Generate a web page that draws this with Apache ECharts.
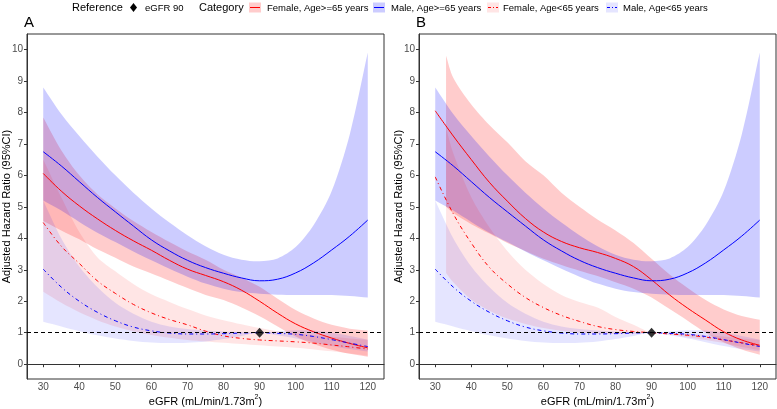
<!DOCTYPE html>
<html><head><meta charset="utf-8">
<script src="https://cdn.jsdelivr.net/npm/echarts@6/dist/echarts.min.js"></script>
<style>html,body{margin:0;padding:0;background:#fff}#c{width:777px;height:409px}</style>
</head><body><div id="c"></div>
<script>
// ---- data ----
const eGFR = [30,35,40,45,50,55,60,65,70,75,80,85,90,95,100,105,110,115,120];
const eGFR_B_female = [33,35,40,45,50,55,60,65,70,75,80,85,90,95,100,105,110,115,120];
const xTicks = [30,40,50,60,70,80,90,100,110,120];
const yTicks = [0,1,2,3,4,5,6,7,8,9,10];
const refX = [90];
const refY = [1];

// Male, Age>=65 (same in both panels)
const maleOldFit = [6.75,6.3,5.8,5.3,4.84,4.39,3.95,3.6,3.3,3.07,2.89,2.74,2.65,2.7,2.9,3.22,3.63,4.07,4.58];
const maleOldLo  = [5.2,4.88,4.52,4.18,3.88,3.58,3.3,3.03,2.78,2.56,2.4,2.29,2.24,2.21,2.2,2.2,2.2,2.17,2.12];
const maleOldHi  = [8.79,7.95,7.25,6.6,6.0,5.45,4.95,4.5,4.1,3.75,3.48,3.32,3.27,3.36,3.72,4.42,5.5,7.3,9.9];
// Male, Age<65 (same in both panels)
const maleYoungFit = [3.02,2.45,2.0,1.65,1.38,1.18,1.06,0.99,0.96,0.96,0.97,0.99,1.0,0.98,0.95,0.88,0.78,0.67,0.56];
const maleYoungLo  = [1.35,1.2,1.05,0.92,0.82,0.74,0.69,0.67,0.68,0.72,0.8,0.9,1.0,0.92,0.82,0.7,0.58,0.48,0.4];
const maleYoungHi  = [5.2,4.0,3.1,2.45,1.95,1.6,1.35,1.2,1.12,1.07,1.04,1.02,1.0,1.04,1.08,1.07,1.0,0.9,0.78];
// Panel A females
const femOldFitA = [6.06,5.5,5.03,4.62,4.25,3.92,3.62,3.3,3.02,2.82,2.62,2.35,2.0,1.62,1.28,1.03,0.83,0.66,0.52];
const femOldLoA  = [4.55,4.25,3.97,3.65,3.38,3.1,2.88,2.65,2.42,2.2,2.04,1.8,1.52,1.2,0.88,0.64,0.46,0.33,0.24];
const femOldHiA  = [7.84,6.8,6.0,5.4,4.95,4.55,4.2,3.88,3.58,3.32,3.0,2.75,2.46,2.08,1.72,1.45,1.25,1.13,1.07];
const femYoungFitA = [4.5,3.75,3.2,2.65,2.25,1.9,1.63,1.42,1.25,1.05,0.9,0.82,0.77,0.74,0.71,0.67,0.61,0.55,0.48];
const femYoungLoA  = [2.3,1.95,1.65,1.4,1.2,1.05,0.93,0.84,0.77,0.72,0.68,0.64,0.6,0.56,0.52,0.47,0.41,0.34,0.27];
const femYoungHiA  = [6.5,5.3,4.2,3.4,2.95,2.55,2.22,1.98,1.75,1.55,1.4,1.27,1.15,1.05,0.98,0.92,0.87,0.82,0.78];
// Panel B females
const femOldFitB = [8.05,7.25,6.5,5.78,5.18,4.63,4.2,3.9,3.7,3.55,3.36,3.1,2.68,2.2,1.78,1.4,1.03,0.77,0.6];
const femOldLoB  = [5.0,4.8,4.45,4.15,3.85,3.6,3.35,3.15,2.97,2.8,2.6,2.4,2.12,1.75,1.38,1.0,0.7,0.47,0.3];
const femOldHiB  = [9.8,9.1,8.25,7.6,7.05,6.45,6.0,5.45,5.0,4.6,4.25,3.85,3.35,2.85,2.42,2.04,1.74,1.53,1.41];
const femYoungFitB = [5.95,4.78,3.85,3.08,2.55,2.12,1.8,1.55,1.36,1.2,1.1,1.04,1.0,0.96,0.92,0.86,0.77,0.68,0.58];
const femYoungLoB  = [2.9,2.6,2.05,1.7,1.45,1.28,1.15,1.06,1.0,0.97,0.96,0.97,1.0,0.94,0.86,0.77,0.67,0.55,0.45];
const femYoungHiB  = [7.5,6.7,5.3,4.35,3.6,3.0,2.55,2.2,1.98,1.8,1.5,1.25,1.0,0.98,0.97,0.93,0.88,0.82,0.78];

// ---- build ----
const FONT = 'Liberation Sans, Arial, Helvetica, sans-serif';
const RED = '#ff0000', BLUE = '#0000ff';
const FILL_RO = 'rgba(255,0,0,0.2)', FILL_BO = 'rgba(0,0,255,0.2)';
const FILL_RY = 'rgba(255,0,0,0.1)', FILL_BY = 'rgba(0,0,255,0.1)';
const DOTDASH = [4,3,1,3];

function pairs(xa, ya){ return xa.map((x,i)=>[x, ya[i]]); }

function band(gi, xa, lo, hi, color){
  return {
    type:'custom', xAxisIndex:gi, yAxisIndex:gi, silent:true, z:1,
    data: xa.map((x,i)=>[x, lo[i], hi[i]]),
    encode:{x:0, y:[1,2]},
    renderItem: function(params, api){
      if (params.dataIndex !== 0) return null;
      const n = xa.length;
      const L = [], H = [];
      for (let i=0;i<n;i++){ L.push(api.coord([xa[i], lo[i]])); H.push(api.coord([xa[i], hi[i]])); }
      const pts = [L[0]].concat(L, [L[n-1], H[n-1]], H.slice().reverse(), [H[0]]);
      return {type:'polygon', shape:{points:pts, smooth:0.3}, style:{fill:color}};
    }
  };
}
function line(gi, xa, ya, color, dashed){
  return {type:'line', xAxisIndex:gi, yAxisIndex:gi, data:pairs(xa, ya), symbol:'none',
    smooth:0.4, z:3, silent:true,
    lineStyle:{color:color, width:1, type: dashed ? DOTDASH : 'solid'}};
}
function refSeries(gi){
  return {type:'scatter', xAxisIndex:gi, yAxisIndex:gi, data:pairs(refX, refY), symbol:'diamond',
    symbolSize:[9,10], itemStyle:{color:'#000'}, z:5, silent:true,
    markLine:{silent:true, symbol:['none','none'], label:{show:false},
      lineStyle:{color:'#000', type:[4,3], width:1}, data:[{yAxis:1}]}};
}

const series = [];
// Panel A
series.push(band(0, eGFR, femOldLoA, femOldHiA, FILL_RO));
series.push(band(0, eGFR, maleOldLo, maleOldHi, FILL_BO));
series.push(band(0, eGFR, femYoungLoA, femYoungHiA, FILL_RY));
series.push(band(0, eGFR, maleYoungLo, maleYoungHi, FILL_BY));
series.push(refSeries(0));
series.push(line(0, eGFR, femOldFitA, RED, false));
series.push(line(0, eGFR, maleOldFit, BLUE, false));
series.push(line(0, eGFR, femYoungFitA, RED, true));
series.push(line(0, eGFR, maleYoungFit, BLUE, true));
// Panel B
series.push(band(1, eGFR_B_female, femOldLoB, femOldHiB, FILL_RO));
series.push(band(1, eGFR, maleOldLo, maleOldHi, FILL_BO));
series.push(band(1, eGFR_B_female, femYoungLoB, femYoungHiB, FILL_RY));
series.push(band(1, eGFR, maleYoungLo, maleYoungHi, FILL_BY));
series.push(refSeries(1));
series.push(line(1, eGFR, femOldFitB, RED, false));
series.push(line(1, eGFR, maleOldFit, BLUE, false));
series.push(line(1, eGFR, femYoungFitB, RED, true));
series.push(line(1, eGFR, maleYoungFit, BLUE, true));

function xAxis(gi){
  return {type:'value', gridIndex:gi, min:25.5, max:124.5,
    axisLine:{show:true, lineStyle:{color:'#333', width:1}},
    axisTick:{show:true, length:3, customValues:xTicks, lineStyle:{color:'#333'}},
    axisLabel:{customValues:xTicks, fontSize:10, color:'#4d4d4d', margin:3, fontFamily:FONT},
    splitLine:{show:false},
    name:'{a|eGFR (mL/min/1.73m}{s|2}{a|)}', nameLocation:'middle', nameGap:15, nameMoveOverlap:false,
    nameTextStyle:{fontFamily:FONT, rich:{
      a:{fontSize:11, color:'#000', fontFamily:FONT, verticalAlign:'bottom', lineHeight:13},
      s:{fontSize:7, color:'#000', fontFamily:FONT, verticalAlign:'top', lineHeight:8}}}};
}
function yAxis(gi){
  return {type:'value', gridIndex:gi, min:-0.47, max:10.49,
    axisLine:{show:true, lineStyle:{color:'#333', width:1}},
    axisTick:{show:true, length:3, customValues:yTicks, lineStyle:{color:'#333'}},
    axisLabel:{customValues:yTicks, fontSize:10, color:'#4d4d4d', margin:4, fontFamily:FONT},
    splitLine:{show:false},
    name:'Adjusted Hazard Ratio (95%CI)', nameLocation:'middle', nameGap:15, nameMoveOverlap:false,
    nameTextStyle:{fontSize:11, color:'#000', fontFamily:FONT}};
}

function txt(x, y, s, size){
  return {type:'text', x:x, y:y, silent:true,
    style:{text:s, fontSize:size, fontFamily:FONT, fill:'#000', verticalAlign:'middle', align:'left'}};
}
function key(x, stroke, fill, dashed){
  return [
    {type:'rect', shape:{x:x, y:2.5, width:12, height:10}, style:{fill:fill}, silent:true},
    {type:'line', shape:{x1:x+1, y1:7.5, x2:x+11, y2:7.5},
      style:{stroke:stroke, lineWidth:1, lineDash: dashed ? [3,2,1,2] : null}, silent:true}
  ];
}

const graphics = [
  txt(72, 8, 'Reference', 11),
  {type:'polygon', shape:{points:[[133.5,3],[137,7.5],[133.5,12],[130,7.5]]}, style:{fill:'#000'}, silent:true},
  txt(145, 8, 'eGFR 90', 9.5),
  txt(199, 8, 'Category', 11),
  ...key(249, RED, FILL_RO, false),
  txt(267, 8, 'Female, Age>=65 years', 9.5),
  ...key(373, BLUE, FILL_BO, false),
  txt(391, 8, 'Male, Age>=65 years', 9.5),
  ...key(487, RED, FILL_RY, true),
  txt(503, 8, 'Female, Age<65 years', 9.5),
  ...key(606, BLUE, FILL_BY, true),
  txt(623, 8, 'Male, Age<65 years', 9.5),
  txt(24, 23, 'A', 15),
  txt(416, 23, 'B', 15)
];

const chart = echarts.init(document.getElementById('c'), null, {renderer:'canvas'});
chart.setOption({
  animation:false,
  backgroundColor:'#fff',
  grid:[
    {left:27, top:34, width:357, height:345, show:true, borderColor:'#333', borderWidth:1, backgroundColor:'transparent', containLabel:false, outerBoundsMode:'none'},
    {left:419, top:34, width:357, height:345, show:true, borderColor:'#333', borderWidth:1, backgroundColor:'transparent', containLabel:false, outerBoundsMode:'none'}
  ],
  xAxis:[xAxis(0), xAxis(1)],
  yAxis:[yAxis(0), yAxis(1)],
  graphic: graphics,
  series: series
});
</script>
</body></html>
